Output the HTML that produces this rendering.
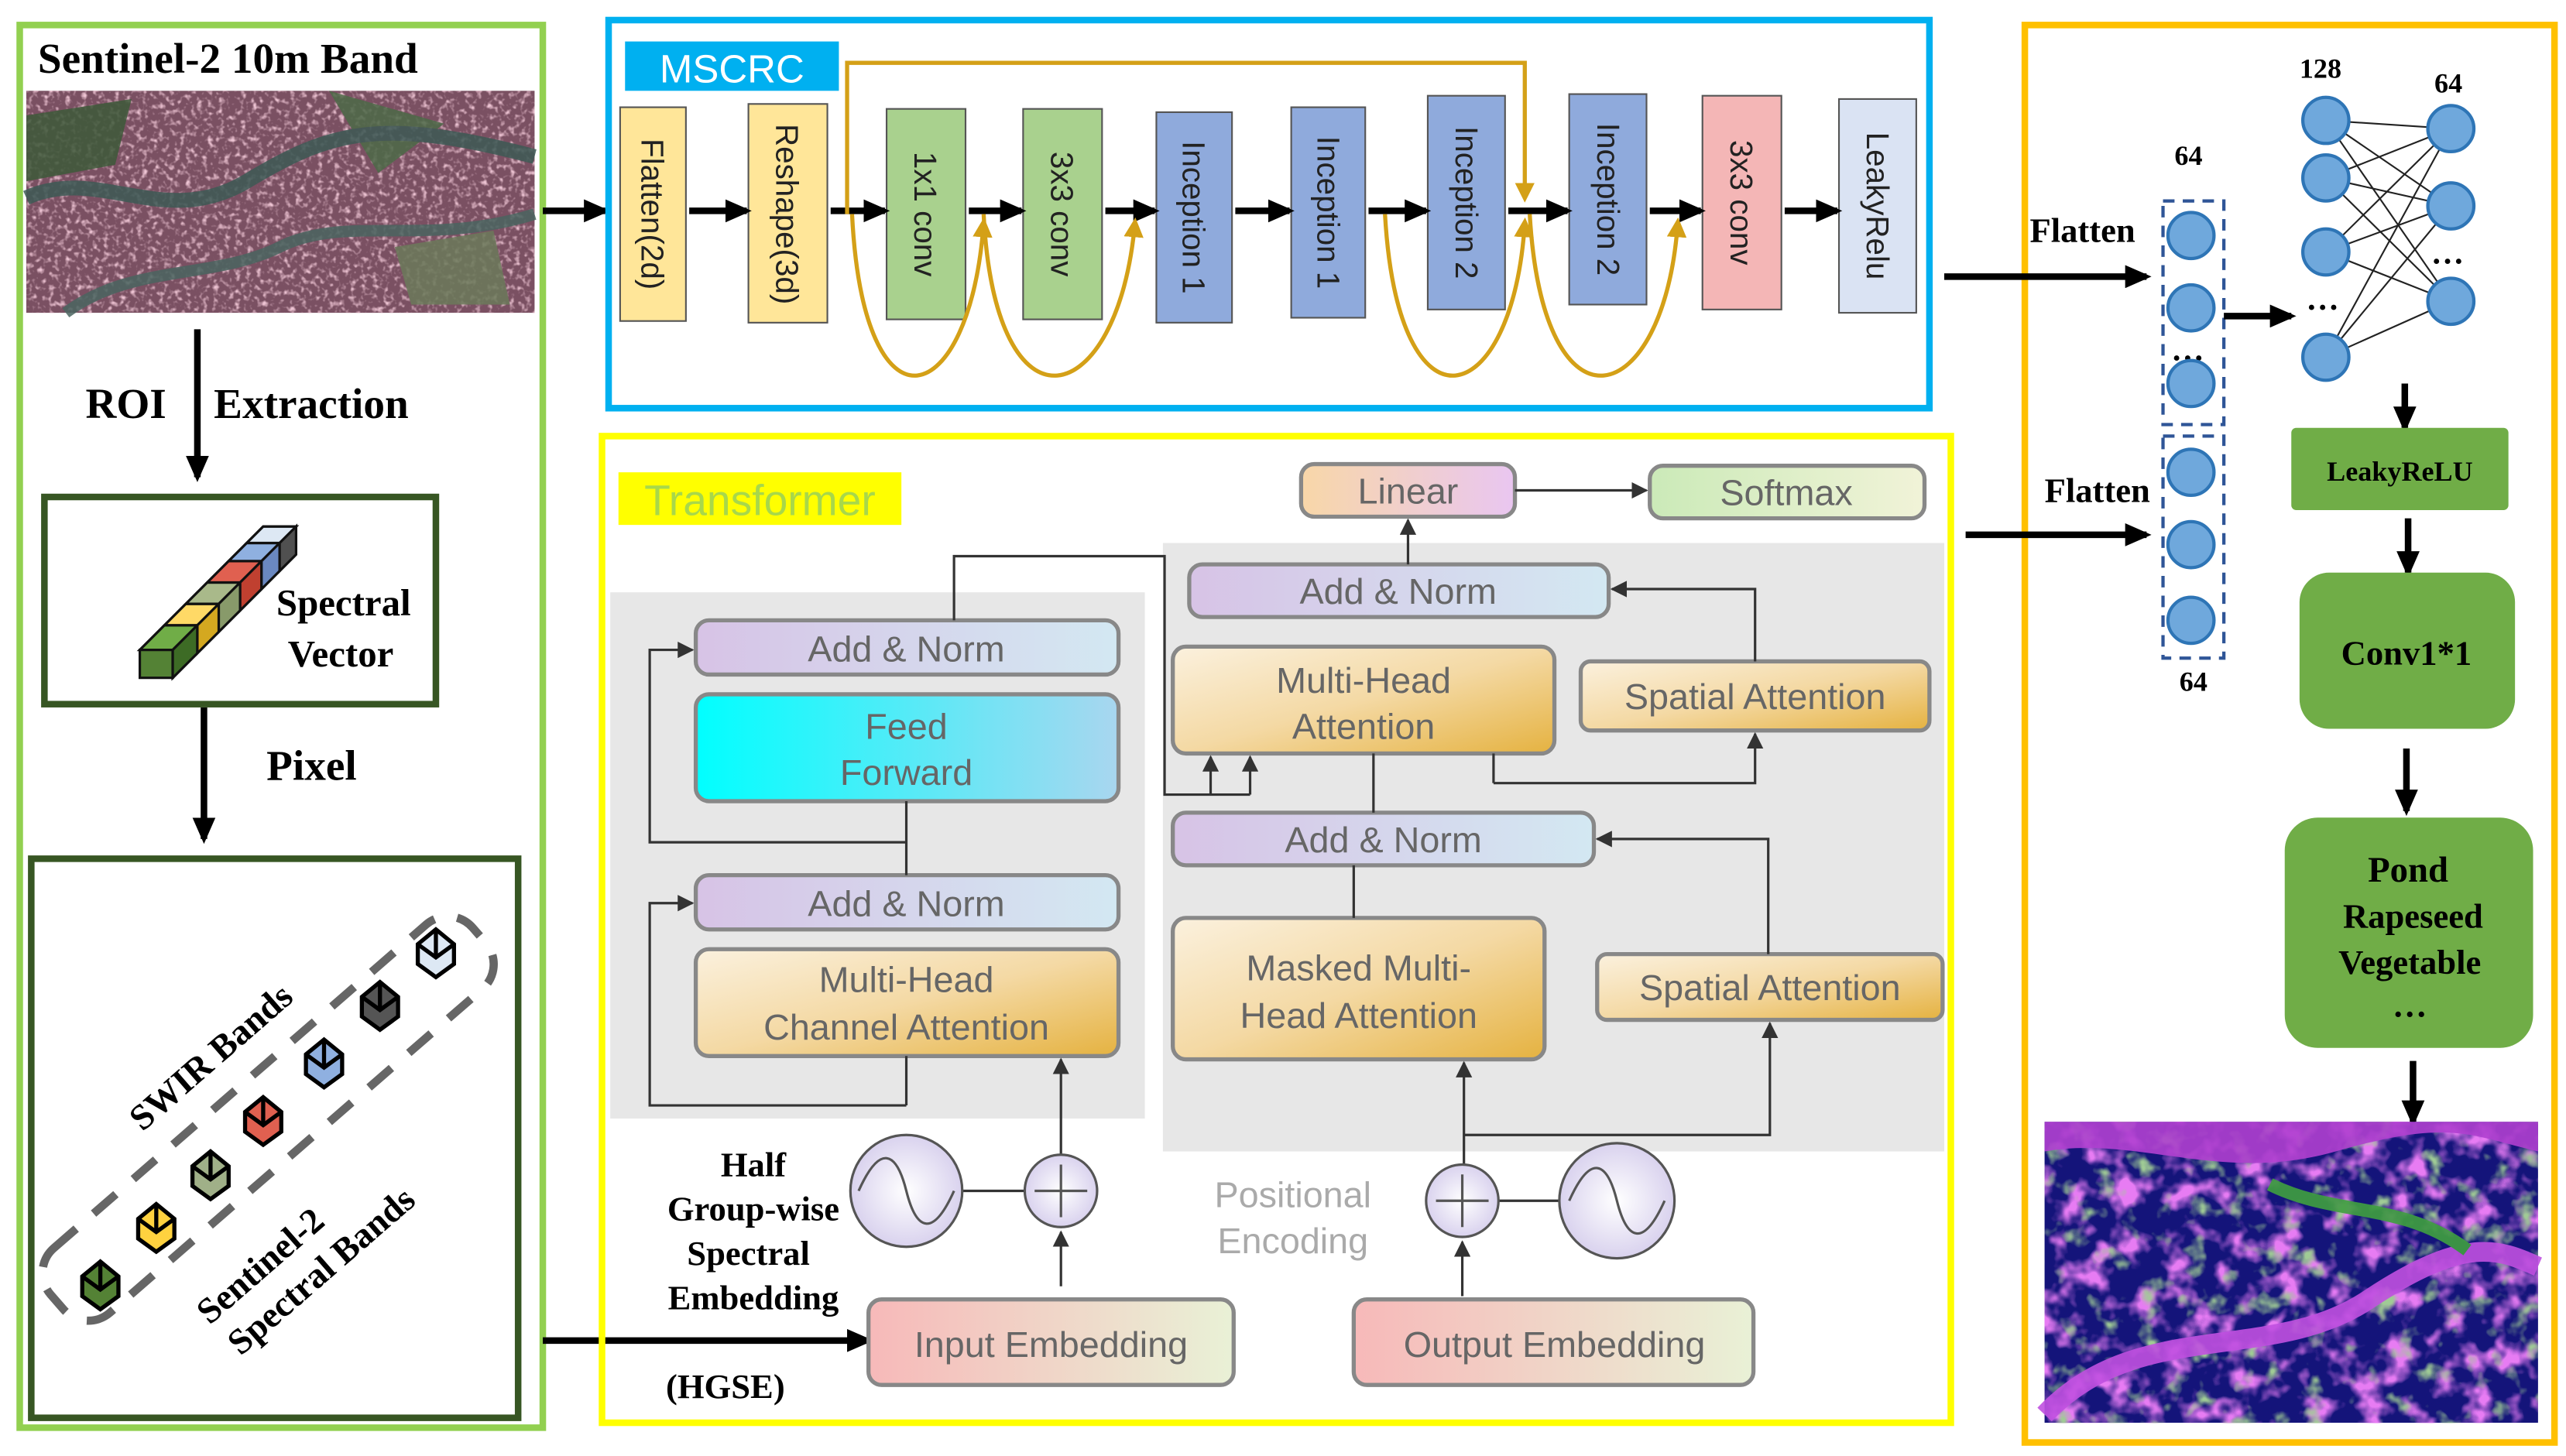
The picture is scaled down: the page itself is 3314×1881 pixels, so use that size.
<!DOCTYPE html>
<html><head><meta charset="utf-8"><style>html,body{margin:0;padding:0;background:#fff}svg{display:block}</style></head>
<body>
<svg width="3314" height="1881" viewBox="0 0 1560 885" xmlns="http://www.w3.org/2000/svg">
<defs>
<marker id="ab" markerWidth="16" markerHeight="14" refX="13" refY="7" orient="auto" markerUnits="userSpaceOnUse"><path d="M0,0 L16,7 L0,14 z" fill="#000"/></marker>
<marker id="ag" markerWidth="12" markerHeight="12" refX="9" refY="6" orient="auto" markerUnits="userSpaceOnUse"><path d="M0,0 L12,6 L0,12 z" fill="#d4a017"/></marker>
<marker id="as" markerWidth="10" markerHeight="10" refX="9" refY="5" orient="auto" markerUnits="userSpaceOnUse"><path d="M0,0 L10,5 L0,10 z" fill="#333"/></marker>
<linearGradient id="gAN" x1="0" x2="1"><stop offset="0" stop-color="#d7c3e6"/><stop offset="1" stop-color="#d3e8f2"/></linearGradient>
<linearGradient id="gFF" x1="0" x2="1"><stop offset="0" stop-color="#00ffff"/><stop offset="1" stop-color="#a9d6ef"/></linearGradient>
<linearGradient id="gMH" x1="0" x2="1" y1="0" y2="1"><stop offset="0" stop-color="#fbf1de"/><stop offset="0.5" stop-color="#f4d9a4"/><stop offset="1" stop-color="#e5b240"/></linearGradient>
<linearGradient id="gLin" x1="0" x2="1"><stop offset="0" stop-color="#f8d7a8"/><stop offset="1" stop-color="#e9c6f1"/></linearGradient>
<linearGradient id="gSm" x1="0" x2="1"><stop offset="0" stop-color="#cbeab8"/><stop offset="1" stop-color="#f1f3d8"/></linearGradient>
<linearGradient id="gEmb" x1="0" x2="1"><stop offset="0" stop-color="#f7b9b9"/><stop offset="1" stop-color="#e9f1d6"/></linearGradient>
<radialGradient id="gCirc"><stop offset="0" stop-color="#ffffff"/><stop offset="1" stop-color="#d9d2ee"/></radialGradient>
<filter id="noise1" x="0" y="0" width="100%" height="100%">
<feTurbulence type="fractalNoise" baseFrequency="0.3" numOctaves="2" seed="3"/>
<feColorMatrix type="matrix" values="0 0 0 0 0.85  0 0 0 0 0.55  0 0 0 0 0.65  3 0 0 0 -1.5"/>
</filter>
<filter id="noiseM" x="0" y="0" width="100%" height="100%">
<feTurbulence type="fractalNoise" baseFrequency="0.06" numOctaves="3" seed="7"/>
<feColorMatrix type="matrix" values="0 0 0 0 0.8  0 0 0 0 0.2  0 0 0 0 0.9  4 0 0 0 -1.9"/>
</filter>
<filter id="noiseG" x="0" y="0" width="100%" height="100%">
<feTurbulence type="fractalNoise" baseFrequency="0.07" numOctaves="3" seed="21"/>
<feColorMatrix type="matrix" values="0 0 0 0 0.35  0 0 0 0 0.6  0 0 0 0 0.3  0 4 0 0 -2.3"/>
</filter>
</defs>
<rect width="1560" height="885" fill="#fff"/>

<!-- LEFT PANEL -->
<rect x="12" y="15" width="318" height="853" fill="none" stroke="#92d050" stroke-width="4"/>
<text x="23" y="44" font-family="Liberation Serif" font-weight="bold" font-size="26">Sentinel-2 10m Band</text>
<rect x="16" y="55" width="309" height="135" fill="#7a5062"/>
<rect x="16" y="55" width="309" height="135" filter="url(#noise1)"/>
<g opacity="0.85">
<path d="M16,70 L80,60 L70,100 L16,110 Z" fill="#3e5a3a"/>
<path d="M200,55 L270,75 L230,105 Z" fill="#4d6a48"/>
<path d="M16,120 C60,100 100,140 150,110 S230,70 325,95" stroke="#3d5a55" stroke-width="9" fill="none"/>
<path d="M40,190 C80,160 130,170 170,150 S260,150 325,130" stroke="#4a6560" stroke-width="7" fill="none"/>
<path d="M240,150 L300,140 L310,185 L250,185 Z" fill="#6b7a5a"/>
</g>
<line x1="120" y1="200" x2="120" y2="290" stroke="#000" stroke-width="4" marker-end="url(#ab)"/>
<text x="52" y="254" font-family="Liberation Serif" font-weight="bold" font-size="26">ROI</text>
<text x="130" y="254" font-family="Liberation Serif" font-weight="bold" font-size="26">Extraction</text>
<rect x="27" y="302" width="238" height="126" fill="#fff" stroke="#375623" stroke-width="4"/>
<g stroke="#111" stroke-width="1.5">
<polygon points="85,395 160,320 180,320 105,395" fill="#fff"/>
<polygon points="85,395 105,395 105,412 85,412" fill="#548235"/>
<polygon points="105,395 180,320 180,337 105,412" fill="#9aa"/>
<polygon points="85,395 100,380 120,380 105,395" fill="#70ad47"/>
<polygon points="100,380 113,367 133,367 120,380" fill="#ffd966"/>
<polygon points="113,367 126,354 146,354 133,367" fill="#a9b98a"/>
<polygon points="126,354 139,341 159,341 146,354" fill="#e06050"/>
<polygon points="139,341 150,330 170,330 159,341" fill="#8fb0e0"/>
<polygon points="150,330 160,320 180,320 170,330" fill="#dde8f4"/>
<polygon points="105,412 120,397 120,380 105,395" fill="#3d6b25"/>
<polygon points="120,397 133,384 133,367 120,380" fill="#d4a820"/>
<polygon points="133,384 146,371 146,354 133,367" fill="#889a6a"/>
<polygon points="146,371 159,358 159,341 146,354" fill="#c04030"/>
<polygon points="159,358 170,347 170,330 159,341" fill="#6a88c0"/>
<polygon points="170,347 180,337 180,320 170,330" fill="#505050"/>
</g>
<text x="168" y="374" font-family="Liberation Serif" font-weight="bold" font-size="23">Spectral</text>
<text x="175" y="405" font-family="Liberation Serif" font-weight="bold" font-size="23">Vector</text>
<line x1="124" y1="430" x2="124" y2="510" stroke="#000" stroke-width="4" marker-end="url(#ab)"/>
<text x="162" y="474" font-family="Liberation Serif" font-weight="bold" font-size="26">Pixel</text>
<rect x="19" y="522" width="296" height="340" fill="#fff" stroke="#375623" stroke-width="4"/>
<rect x="-170" y="-26" width="340" height="52" rx="20" transform="translate(163,680) rotate(-41)" fill="none" stroke="#666" stroke-width="5" stroke-dasharray="18,14"/>
<g stroke="#000" stroke-width="2.5">
<g transform="translate(61,780)"><polygon points="0,-13 11,-4 11,8 0,16 -11,8 -11,-4" fill="#548235"/><polyline points="-11,-4 0,4 11,-4" fill="none"/><line x1="0" y1="4" x2="0" y2="-13"/></g>
<g transform="translate(95,745)"><polygon points="0,-13 11,-4 11,8 0,16 -11,8 -11,-4" fill="#ffd23f"/><polyline points="-11,-4 0,4 11,-4" fill="none"/><line x1="0" y1="4" x2="0" y2="-13"/></g>
<g transform="translate(128,713)"><polygon points="0,-13 11,-4 11,8 0,16 -11,8 -11,-4" fill="#a0b088"/><polyline points="-11,-4 0,4 11,-4" fill="none"/><line x1="0" y1="4" x2="0" y2="-13"/></g>
<g transform="translate(160,680)"><polygon points="0,-13 11,-4 11,8 0,16 -11,8 -11,-4" fill="#e06050"/><polyline points="-11,-4 0,4 11,-4" fill="none"/><line x1="0" y1="4" x2="0" y2="-13"/></g>
<g transform="translate(197,645)"><polygon points="0,-13 11,-4 11,8 0,16 -11,8 -11,-4" fill="#8fb0e0"/><polyline points="-11,-4 0,4 11,-4" fill="none"/><line x1="0" y1="4" x2="0" y2="-13"/></g>
<g transform="translate(231,610)"><polygon points="0,-13 11,-4 11,8 0,16 -11,8 -11,-4" fill="#555"/><polyline points="-11,-4 0,4 11,-4" fill="none"/><line x1="0" y1="4" x2="0" y2="-13"/></g>
<g transform="translate(265,578)"><polygon points="0,-13 11,-4 11,8 0,16 -11,8 -11,-4" fill="#dde8f4"/><polyline points="-11,-4 0,4 11,-4" fill="none"/><line x1="0" y1="4" x2="0" y2="-13"/></g>
</g>
<text transform="translate(133,648) rotate(-41)" text-anchor="middle" font-family="Liberation Serif" font-weight="bold" font-size="22">SWIR  Bands</text>
<text transform="translate(163,775) rotate(-41)" text-anchor="middle" font-family="Liberation Serif" font-weight="bold" font-size="22">Sentinel-2</text>
<text transform="translate(200,778) rotate(-41)" text-anchor="middle" font-family="Liberation Serif" font-weight="bold" font-size="22">Spectral Bands</text>
<line x1="330" y1="128" x2="368" y2="128" stroke="#000" stroke-width="4" marker-end="url(#ab)"/>
<line x1="330" y1="815" x2="528" y2="815" stroke="#000" stroke-width="4" marker-end="url(#ab)"/>

<!-- MSCRC -->
<rect x="370" y="12" width="803" height="236" fill="none" stroke="#00b0f0" stroke-width="4"/>
<rect x="380" y="25" width="130" height="30" fill="#00b0f0"/>
<text x="445" y="50" text-anchor="middle" font-family="Liberation Sans" font-size="24" fill="#fff">MSCRC</text>
<g stroke="#555" stroke-width="1">
<rect x="377" y="65" width="40" height="130" fill="#ffe699"/>
<rect x="455" y="63" width="48" height="133" fill="#ffe699"/>
<rect x="539" y="66" width="48" height="128" fill="#a9d18e"/>
<rect x="622" y="66" width="48" height="128" fill="#a9d18e"/>
<rect x="703" y="68" width="46" height="128" fill="#8faadc"/>
<rect x="785" y="65" width="45" height="128" fill="#8faadc"/>
<rect x="868" y="58" width="47" height="130" fill="#8faadc"/>
<rect x="954" y="57" width="47" height="128" fill="#8faadc"/>
<rect x="1035" y="58" width="48" height="130" fill="#f4b6b6"/>
<rect x="1118" y="60" width="47" height="130" fill="#dae3f3"/>
</g>
<g font-family="Liberation Sans" font-size="19" fill="#222">
<text transform="translate(390,130) rotate(90)" text-anchor="middle">Flatten(2d)</text>
<text transform="translate(472,130) rotate(90)" text-anchor="middle">Reshape(3d)</text>
<text transform="translate(556,130) rotate(90)" text-anchor="middle">1x1 conv</text>
<text transform="translate(639,130) rotate(90)" text-anchor="middle">3x3 conv</text>
<text transform="translate(719,132) rotate(90)" text-anchor="middle">Inception 1</text>
<text transform="translate(801,129) rotate(90)" text-anchor="middle">Inception 1</text>
<text transform="translate(885,123) rotate(90)" text-anchor="middle">Inception 2</text>
<text transform="translate(971,121) rotate(90)" text-anchor="middle">Inception 2</text>
<text transform="translate(1052,123) rotate(90)" text-anchor="middle">3x3 conv</text>
<text transform="translate(1135,125) rotate(90)" text-anchor="middle">LeakyRelu</text>
</g>
<g stroke="#000" stroke-width="4" marker-end="url(#ab)">
<line x1="419" y1="128" x2="454" y2="128"/><line x1="505" y1="128" x2="538" y2="128"/>
<line x1="589" y1="128" x2="621" y2="128"/><line x1="672" y1="128" x2="702" y2="128"/>
<line x1="751" y1="128" x2="784" y2="128"/><line x1="832" y1="128" x2="867" y2="128"/>
<line x1="917" y1="128" x2="953" y2="128"/><line x1="1003" y1="128" x2="1034" y2="128"/>
<line x1="1085" y1="128" x2="1117" y2="128"/>
</g>
<g stroke="#d4a017" stroke-width="2.5" fill="none">
<path d="M515,130 L515,38 L927,38 L927,120" marker-end="url(#ag)"/>
<path d="M518,130 C525,270 590,250 598,135" marker-end="url(#ag)"/>
<path d="M598,130 C605,270 680,250 690,135" marker-end="url(#ag)"/>
<path d="M842,130 C850,270 920,250 927,135" marker-end="url(#ag)"/>
<path d="M930,130 C938,270 1012,250 1020,135" marker-end="url(#ag)"/>
</g>

<!-- TRANSFORMER -->
<rect x="366" y="265" width="820" height="600" fill="none" stroke="#ffff00" stroke-width="4"/>
<rect x="376" y="287" width="172" height="32" fill="#ffff00"/>
<text x="462" y="313" text-anchor="middle" font-family="Liberation Sans" font-size="26" fill="#a8d84a">Transformer</text>
<rect x="371" y="360" width="325" height="320" fill="#e7e7e7"/>
<rect x="707" y="330" width="475" height="370" fill="#e7e7e7"/>
<g stroke="#888" stroke-width="2.5">
<rect x="423" y="377" width="257" height="33" rx="8" fill="url(#gAN)"/>
<rect x="423" y="422" width="257" height="65" rx="8" fill="url(#gFF)"/>
<rect x="423" y="532" width="257" height="33" rx="8" fill="url(#gAN)"/>
<rect x="423" y="577" width="257" height="65" rx="8" fill="url(#gMH)"/>
<rect x="791" y="282" width="130" height="32" rx="8" fill="url(#gLin)"/>
<rect x="1003" y="283" width="167" height="32" rx="8" fill="url(#gSm)"/>
<rect x="723" y="343" width="255" height="32" rx="8" fill="url(#gAN)"/>
<rect x="713" y="393" width="232" height="65" rx="8" fill="url(#gMH)"/>
<rect x="961" y="402" width="212" height="42" rx="6" fill="url(#gMH)"/>
<rect x="713" y="494" width="256" height="32" rx="8" fill="url(#gAN)"/>
<rect x="713" y="558" width="226" height="86" rx="8" fill="url(#gMH)"/>
<rect x="971" y="580" width="210" height="40" rx="6" fill="url(#gMH)"/>
<rect x="528" y="790" width="222" height="52" rx="8" fill="url(#gEmb)"/>
<rect x="823" y="790" width="243" height="52" rx="8" fill="url(#gEmb)"/>
</g>
<g font-family="Liberation Sans" font-size="22" fill="#666" text-anchor="middle">
<text x="551" y="402">Add &amp; Norm</text>
<text x="551" y="449">Feed</text><text x="551" y="477">Forward</text>
<text x="551" y="557">Add &amp; Norm</text>
<text x="551" y="603">Multi-Head</text><text x="551" y="632">Channel Attention</text>
<text x="856" y="306">Linear</text>
<text x="1086" y="307">Softmax</text>
<text x="850" y="367">Add &amp; Norm</text>
<text x="829" y="421">Multi-Head</text><text x="829" y="449">Attention</text>
<text x="1067" y="431">Spatial Attention</text>
<text x="841" y="518">Add &amp; Norm</text>
<text x="826" y="596">Masked Multi-</text><text x="826" y="625">Head Attention</text>
<text x="1076" y="608">Spatial Attention</text>
<text x="639" y="825">Input Embedding</text>
<text x="945" y="825">Output Embedding</text>
<text x="786" y="734" fill="#aaa">Positional</text>
<text x="786" y="762" fill="#aaa">Encoding</text>
</g>
<g stroke="#333" stroke-width="1.5" fill="none">
<line x1="551" y1="487" x2="551" y2="532"/>
<polyline points="551,512 395,512 395,395 421,395" marker-end="url(#as)"/>
<line x1="551" y1="642" x2="551" y2="672"/>
<polyline points="551,672 395,672 395,549 421,549" marker-end="url(#as)"/>
<polyline points="580,377 580,338 708,338 708,483 760,483"/>
<line x1="736" y1="483" x2="736" y2="460" marker-end="url(#as)"/>
<line x1="760" y1="483" x2="760" y2="460" marker-end="url(#as)"/>
<line x1="856" y1="343" x2="856" y2="316" marker-end="url(#as)"/>
<line x1="921" y1="298" x2="1001" y2="298" marker-end="url(#as)"/>
<polyline points="1067,402 1067,358 980,358" marker-end="url(#as)"/>
<polyline points="908,476 1067,476 1067,446" marker-end="url(#as)"/>
<line x1="835" y1="494" x2="835" y2="458"/>
<line x1="908" y1="476" x2="908" y2="458"/>
<polyline points="1075,580 1075,510 971,510" marker-end="url(#as)"/>
<line x1="823" y1="526" x2="823" y2="558"/>
<line x1="890" y1="708" x2="890" y2="646" marker-end="url(#as)"/>
<polyline points="890,690 1076,690 1076,622" marker-end="url(#as)"/>
<line x1="645" y1="702" x2="645" y2="644" marker-end="url(#as)"/>
<line x1="645" y1="782" x2="645" y2="749" marker-end="url(#as)"/>
<line x1="889" y1="788" x2="889" y2="755" marker-end="url(#as)"/>
<line x1="585" y1="724" x2="623" y2="724"/>
<line x1="911" y1="730" x2="948" y2="730"/>
</g>
<g stroke="#555" stroke-width="1.5">
<circle cx="551" cy="724" r="34" fill="url(#gCirc)"/>
<circle cx="645" cy="724" r="22" fill="url(#gCirc)"/>
<circle cx="889" cy="730" r="22" fill="url(#gCirc)"/>
<circle cx="983" cy="730" r="35" fill="url(#gCirc)"/>
<path d="M522,724 C535,695 545,700 551,724 C557,748 567,753 580,724" fill="none"/>
<path d="M954,730 C967,701 977,706 983,730 C989,754 999,759 1012,730" fill="none"/>
<path d="M645,708 V740 M629,724 H661 M889,714 V746 M873,730 H905" fill="none"/>
</g>
<g font-family="Liberation Serif" font-weight="bold" font-size="21" text-anchor="middle">
<text x="458" y="715">Half</text>
<text x="458" y="742">Group-wise</text>
<text x="455" y="769">Spectral</text>
<text x="458" y="796">Embedding</text>
<text x="441" y="850">(HGSE)</text>
</g>

<!-- RIGHT PANEL -->
<rect x="1231" y="15" width="322" height="862" fill="none" stroke="#ffc000" stroke-width="4"/>
<line x1="1182" y1="168" x2="1305" y2="168" stroke="#000" stroke-width="4" marker-end="url(#ab)"/>
<line x1="1195" y1="325" x2="1305" y2="325" stroke="#000" stroke-width="4" marker-end="url(#ab)"/>
<g font-family="Liberation Serif" font-weight="bold">
<text x="1234" y="147" font-size="21">Flatten</text>
<text x="1243" y="305" font-size="21">Flatten</text>
<text x="1322" y="100" font-size="17">64</text>
<text x="1325" y="420" font-size="17">64</text>
<text x="1398" y="47" font-size="17">128</text>
<text x="1480" y="56" font-size="17">64</text>
<text x="1320" y="219" font-size="20">…</text>
<text x="1402" y="188" font-size="20">…</text>
<text x="1478" y="160" font-size="20">…</text>
</g>
<rect x="1315" y="122" width="37" height="136" fill="none" stroke="#2f5597" stroke-width="2" stroke-dasharray="7,5"/>
<rect x="1315" y="265" width="37" height="135" fill="none" stroke="#2f5597" stroke-width="2" stroke-dasharray="7,5"/>
<line x1="1352" y1="192" x2="1393" y2="192" stroke="#000" stroke-width="4" marker-end="url(#ab)"/>
<g stroke="#222" stroke-width="1">
<line x1="1414" y1="73" x2="1490" y2="78"/><line x1="1414" y1="73" x2="1490" y2="125"/><line x1="1414" y1="73" x2="1490" y2="183"/>
<line x1="1414" y1="108" x2="1490" y2="78"/><line x1="1414" y1="108" x2="1490" y2="125"/><line x1="1414" y1="108" x2="1490" y2="183"/>
<line x1="1414" y1="153" x2="1490" y2="78"/><line x1="1414" y1="153" x2="1490" y2="125"/><line x1="1414" y1="153" x2="1490" y2="183"/>
<line x1="1414" y1="217" x2="1490" y2="78"/><line x1="1414" y1="217" x2="1490" y2="125"/><line x1="1414" y1="217" x2="1490" y2="183"/>
</g>
<g fill="#6fa8dc" stroke="#2e75b6" stroke-width="2">
<circle cx="1332" cy="143" r="14"/><circle cx="1332" cy="187" r="14"/><circle cx="1332" cy="233" r="14"/>
<circle cx="1332" cy="287" r="14"/><circle cx="1332" cy="331" r="14"/><circle cx="1332" cy="377" r="14"/>
<circle cx="1414" cy="73" r="14"/><circle cx="1414" cy="108" r="14"/><circle cx="1414" cy="153" r="14"/><circle cx="1414" cy="217" r="14"/>
<circle cx="1490" cy="78" r="14"/><circle cx="1490" cy="125" r="14"/><circle cx="1490" cy="183" r="14"/>
</g>
<g stroke="#000" stroke-width="4" marker-end="url(#ab)">
<line x1="1462" y1="233" x2="1462" y2="260"/>
<line x1="1464" y1="315" x2="1464" y2="348"/>
<line x1="1463" y1="455" x2="1463" y2="493"/>
<line x1="1467" y1="645" x2="1467" y2="682"/>
</g>
<rect x="1393" y="260" width="132" height="50" rx="3" fill="#70ad47"/>
<rect x="1398" y="348" width="131" height="95" rx="18" fill="#70ad47"/>
<rect x="1389" y="497" width="151" height="140" rx="20" fill="#70ad47"/>
<g font-family="Liberation Serif" font-weight="bold" text-anchor="middle" fill="#000">
<text x="1459" y="292" font-size="17">LeakyReLU</text>
<text x="1463" y="404" font-size="21">Conv1*1</text>
<text x="1464" y="536" font-size="22">Pond</text>
<text x="1467" y="564" font-size="21">Rapeseed</text>
<text x="1465" y="592" font-size="21">Vegetable</text>
<text x="1465" y="618" font-size="21">…</text>
</g>
<rect x="1243" y="682" width="300" height="183" fill="#14147a"/>
<rect x="1243" y="682" width="300" height="183" filter="url(#noiseM)"/>
<rect x="1243" y="682" width="300" height="183" filter="url(#noiseG)"/>
<g opacity="0.9">
<path d="M1243,700 C1300,690 1350,720 1420,700 S1500,690 1543,700 L1543,682 L1243,682Z" fill="#b040d0"/>
<path d="M1243,860 C1300,800 1380,830 1440,790 S1520,760 1543,770" stroke="#c050e0" stroke-width="12" fill="none"/>
<path d="M1380,720 C1420,740 1460,730 1500,760" stroke="#40a040" stroke-width="8" fill="none"/>
</g>
</svg>
</body></html>
